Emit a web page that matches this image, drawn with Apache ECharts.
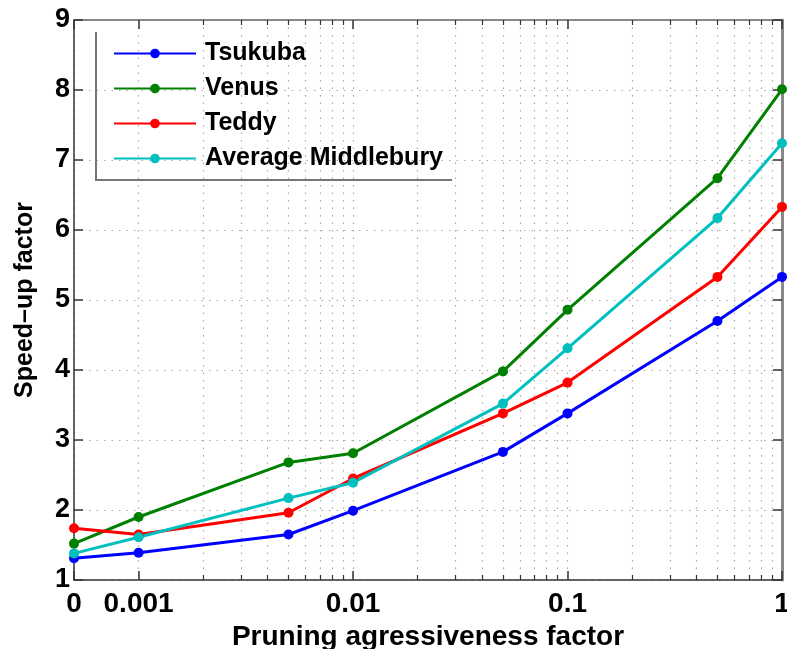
<!DOCTYPE html>
<html>
<head>
<meta charset="utf-8">
<script src="https://cdn.jsdelivr.net/npm/echarts@6/dist/echarts.min.js"></script>
<style>
  html, body { margin: 0; padding: 0; background: #fff; }
  #chart { width: 787px; height: 649px; }
</style>
</head>
<body>
<div id="chart"></div>
<script>
// pruning factor values (0 is drawn at the left end of the log axis)
const xValues = [0, 0.001, 0.005, 0.01, 0.05, 0.1, 0.5, 1]
const tsukuba = [1.31, 1.39, 1.65, 1.99, 2.83, 3.38, 4.70, 5.33]
const venus = [1.52, 1.90, 2.68, 2.81, 3.98, 4.86, 6.74, 8.01]
const teddy = [1.74, 1.65, 1.96, 2.45, 3.38, 3.82, 5.33, 6.33]
const avgMiddlebury = [1.38, 1.61, 2.17, 2.39, 3.52, 4.31, 6.17, 7.24]

const xTickValues = [0, 0.001, 0.01, 0.1, 1]
const xTickLabels = ['0', '0.001', '0.01', '0.1', '1']
const zeroPos = 0.0005  // where "0" sits on the log scale

// log transform for the x axis
const tx = v => Math.log10(v === 0 ? zeroPos : v)

const minorValues = []
;[0.001, 0.01, 0.1].forEach(d => {
  for (let m = 2; m <= 9; m++) minorValues.push(tx(m * d))
})
const majorValues = xTickValues.map(tx)

const chart = echarts.init(document.getElementById('chart'))

const font = 'Liberation Sans, Arial, Helvetica, sans-serif'
const gridLine = { show: true, lineStyle: { color: '#aaa', type: [1.5, 6], width: 1.2 } }

const mkSeries = (name, values, color) => ({
  name: name,
  type: 'line',
  data: values.map((v, i) => [tx(xValues[i]), v]),
  symbol: 'circle',
  symbolSize: 10,
  lineStyle: { width: 3, color: color },
  itemStyle: { color: color },
  animation: false
})

const xBase = {
  type: 'value',
  min: tx(0),
  max: 0,
  gridIndex: 0
}

const option = {
  backgroundColor: '#fff',
  grid: { left: 74, right: 5, top: 20, bottom: 69, containLabel: false, outerBoundsMode: 'none' },
  legend: {
    orient: 'vertical',
    left: 108,
    top: 36,
    itemWidth: 82,
    itemHeight: 12,
    itemGap: 10,
    textStyle: { fontFamily: font, fontWeight: 'bold', fontSize: 25, color: '#000', padding: [0, 0, 0, 4] },
    data: ['Tsukuba', 'Venus', 'Teddy', 'Average Middlebury']
  },
  xAxis: [
    Object.assign({}, xBase, {
      position: 'bottom',
      name: 'Pruning agressiveness factor',
      nameLocation: 'middle',
      nameGap: 40,
      nameTextStyle: { fontFamily: font, fontWeight: 'bold', fontSize: 28, color: '#000' },
      axisLine: { show: true, onZero: false, lineStyle: { color: '#333', width: 1.5 } },
      axisTick: { show: true, inside: true, length: 9, customValues: majorValues, lineStyle: { color: '#333', width: 1.5 } },
      axisLabel: {
        customValues: majorValues,
        margin: 10,
        fontFamily: font, fontWeight: 'bold', fontSize: 28, color: '#000',
        formatter: v => {
          const i = majorValues.findIndex(m => Math.abs(m - v) < 1e-6)
          return i >= 0 ? xTickLabels[i] : ''
        }
      },
      splitLine: gridLine
    }),
    Object.assign({}, xBase, {
      position: 'bottom',
      axisLine: { show: false },
      axisTick: { show: true, inside: true, length: 5, customValues: minorValues, lineStyle: { color: '#333', width: 1.2 } },
      axisLabel: { show: false },
      splitLine: gridLine
    }),
    Object.assign({}, xBase, {
      position: 'top',
      axisLine: { show: true, onZero: false, lineStyle: { color: '#888', width: 2 } },
      axisTick: { show: true, inside: true, length: 9, customValues: majorValues, lineStyle: { color: '#333', width: 1.5 } },
      axisLabel: { show: false },
      splitLine: { show: false }
    }),
    Object.assign({}, xBase, {
      position: 'top',
      axisLine: { show: false },
      axisTick: { show: true, inside: true, length: 5, customValues: minorValues, lineStyle: { color: '#333', width: 1.2 } },
      axisLabel: { show: false },
      splitLine: { show: false }
    })
  ],
  yAxis: [
    {
      type: 'value',
      position: 'left',
      min: 1,
      max: 9,
      interval: 1,
      name: 'Speed\u2013up factor',
      nameLocation: 'middle',
      nameGap: 36,
      nameTextStyle: { fontFamily: font, fontWeight: 'bold', fontSize: 25, color: '#000' },
      axisLine: { show: true, onZero: false, lineStyle: { color: '#333', width: 1.5 } },
      axisTick: { show: true, inside: true, length: 9, lineStyle: { color: '#333', width: 1.5 } },
      axisLabel: { margin: 4, fontFamily: font, fontWeight: 'bold', fontSize: 27, color: '#000' },
      splitLine: gridLine
    },
    {
      type: 'value',
      position: 'right',
      min: 1,
      max: 9,
      interval: 1,
      axisLine: { show: true, onZero: false, lineStyle: { color: '#888', width: 3 } },
      axisTick: { show: true, inside: true, length: 9, lineStyle: { color: '#333', width: 1.5 } },
      axisLabel: { show: false },
      splitLine: { show: false }
    }
  ],
  graphic: [
    {
      // legend box: only left and bottom edges are drawn
      type: 'polyline',
      shape: { points: [[96, 32], [96, 180], [452, 180]] },
      style: { stroke: '#777', lineWidth: 2, fill: null },
      z: 10
    }
  ],
  series: [
    mkSeries('Tsukuba', tsukuba, '#0000ff'),
    mkSeries('Venus', venus, '#008000'),
    mkSeries('Teddy', teddy, '#ff0000'),
    mkSeries('Average Middlebury', avgMiddlebury, '#00bfbf')
  ]
}

chart.setOption(option)
</script>
</body>
</html>
